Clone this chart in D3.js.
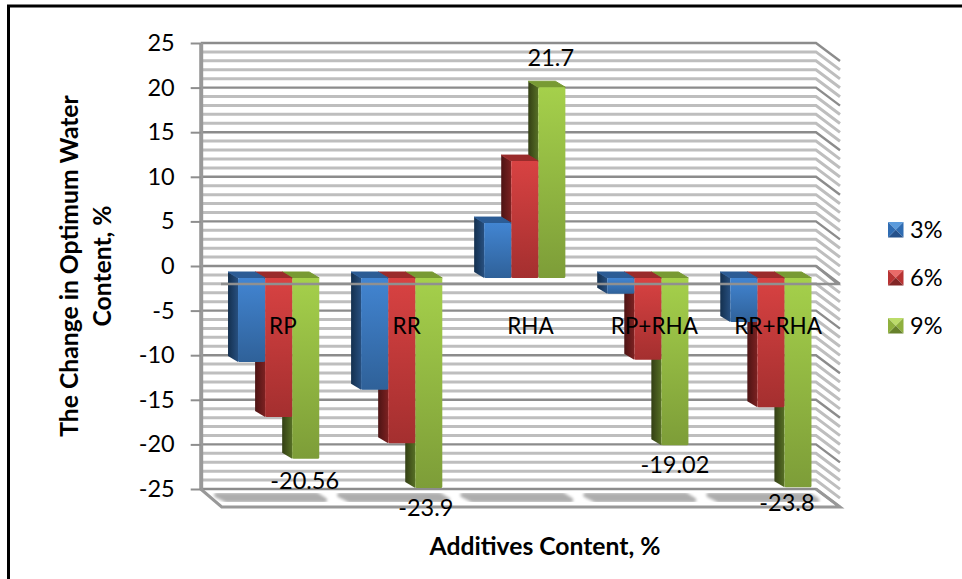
<!DOCTYPE html>
<html>
<head>
<meta charset="utf-8">
<script src="https://cdn.jsdelivr.net/npm/d3@7/dist/d3.min.js"></script>
<style>
html,body{margin:0;padding:0;background:#fff}
svg{display:block}
text{font-family:Lato,"Open Sans",sans-serif;fill:#000}
</style>
</head>
<body>
<svg id="c" width="962" height="579"></svg>
<script>
const categories = ["RP","RR","RHA","RP+RHA","RR+RHA"];
const seriesNames = ["3%","6%","9%"];
const values3 = [-9.55,-12.7,6.25,-1.8,-5];
const values6 = [-15.8,-18.8,13.3,-9.3,-14.7];
const values9 = [-20.56,-23.9,21.7,-19.02,-23.8];
const yTicks = [25,20,15,10,5,0,-5,-10,-15,-20,-25];
const minorTicks = d3.range(-24,25).filter(v=>v%5!==0);
const seriesValues = [values3,values6,values9];
const labelled = [
  {c:0,text:"-20.56",dx:-1,dy:30},
  {c:1,text:"-23.9",dx:-3,dy:28},
  {c:2,text:"21.7",dx:-1,dy:-21},
  {c:3,text:"-19.02",dx:0,dy:28},
  {c:4,text:"-23.8",dx:-11,dy:24}
];
const palette = [
  {hi:"#4285d2",lo:"#2f6199",sideA:"#14304f",sideB:"#274f7f",cap:"#2c5c95",tri:["#5b9bdc","#2f6cb2","#24508a","#2f6cb2"]},
  {hi:"#d84242",lo:"#a42f2f",sideA:"#4d1414",sideB:"#7c2121",cap:"#9a2b2b",tri:["#ea6a68","#b83333","#822626","#b83333"]},
  {hi:"#a5d04b",lo:"#7d9d38",sideA:"#333f14",sideB:"#566f25",cap:"#789a33",tri:["#bcdc6a","#8fb03e","#67812c","#8fb03e"]}
];

const svg = d3.select("#c");
const defs = svg.append("defs");
palette.forEach((p,i)=>{
  const f = defs.append("linearGradient").attr("id","front"+i).attr("x1",0).attr("y1",0).attr("x2",0).attr("y2",1);
  f.append("stop").attr("offset",0).attr("stop-color",p.hi);
  f.append("stop").attr("offset",1).attr("stop-color",p.lo);
  const s = defs.append("linearGradient").attr("id","side"+i).attr("x1",0).attr("y1",0).attr("x2",1).attr("y2",0);
  s.append("stop").attr("offset",0).attr("stop-color",p.sideA);
  s.append("stop").attr("offset",1).attr("stop-color",p.sideB);
});
defs.append("filter").attr("id","soft").attr("x","-10%").attr("y","-40%").attr("width","120%").attr("height","180%")
  .append("feGaussianBlur").attr("stdDeviation",1.8);

// frame of the picture
svg.append("path").attr("d","M8.5,579V6H962").attr("fill","none").attr("stroke","#000").attr("stroke-width",3);

// scales
const wallLeft=200.7, wallRight=816, depthX=24, depthY=18;
const yWall = d3.scaleLinear().domain([-25,25]).range([489,43]);
const xBack = d3.scaleBand().domain(categories).range([wallLeft,wallRight]).paddingInner(0.34).paddingOuter(0.17);
const xFront = d3.scaleBand().domain(categories).range([wallLeft+20.3,wallRight+24]);
const xSeries = d3.scaleBand().domain(d3.range(3)).range([0,xBack.bandwidth()]);
const yBar = d3.scaleLinear().domain([-25,25]).range([278+25*8.79,278-25*8.79]);
const barInset=6.4, barDX=10, barDY=6;

// walls: minor lines first, major lines over them
const wall = svg.append("g").attr("fill","none");
function wallLines(vals,stroke,width){
  const g = wall.append("g").attr("stroke",stroke).attr("stroke-width",width);
  g.selectAll("path").data(vals).join("path")
    .attr("d",v=>`M${wallLeft},${yWall(v)}H${wallRight}L${wallRight+depthX},${yWall(v)+depthY}`);
}
wallLines(minorTicks,"#bebebe",3);
wallLines(yTicks,"#8c8c8c",2.4);
// floor
const floor = wall.append("g").attr("stroke","#989898").attr("stroke-width",3);
floor.append("path").attr("d",`M${wallLeft},${yWall(-25)}L${wallLeft+depthX-3},${yWall(-25)+depthY}H${wallRight+depthX}L${wallRight},${yWall(-25)}`);
// left wall strip
wall.append("line").attr("x1",wallLeft+0.5).attr("x2",wallLeft+0.5).attr("y1",yWall(25)).attr("y2",yWall(-25))
  .attr("stroke","#999").attr("stroke-width",4);

// floor shadows
svg.append("g").attr("filter","url(#soft)").selectAll("path").data(categories).join("path")
  .attr("fill","#adadad").attr("stroke","#adadad").attr("stroke-width",5).attr("stroke-linejoin","round")
  .attr("d",c=>{
    const x=xBack(c)-5;
    return `M${x},${yWall(-25)+6}H${x+100}L${x+108},${yWall(-25)+11}H${x+10}Z`;
  });

// bars: back series first so that the first series sits in front
const bars = svg.append("g").attr("stroke-linejoin","round");
[2,1,0].forEach(si=>{
  categories.forEach((c,ci)=>{
    const v = seriesValues[si][ci];
    const L = xBack(c)+xSeries(si)+barInset;
    const w = xSeries.bandwidth();
    const fTop = yBar(Math.max(v,0)), fBot = yBar(Math.min(v,0));
    const FL=L+barDX, FR=FL+w;
    const side=`M${L},${fTop-barDY}L${FL},${fTop}V${fBot}L${L},${fBot-barDY}Z`;
    const cap=`M${L},${fTop-barDY}H${L+w}L${FR},${fTop}H${FL}Z`;
    const g = bars.append("g");
    g.append("path").attr("d",side).attr("fill",`url(#side${si})`);
    g.append("path").attr("d",cap).attr("fill",palette[si].cap).attr("stroke",palette[si].cap).attr("stroke-width",1);
    g.append("rect").attr("x",FL).attr("y",fTop).attr("width",w).attr("height",fBot-fTop)
      .attr("fill",`url(#front${si})`).attr("rx",1.5);
  });
});

// zero plane in front of the bars
svg.append("path").attr("fill","none").attr("stroke","#909090").attr("stroke-width",2.4)
  .attr("d",`M${wallLeft+20.3},${yWall(0)+depthY}H${wallRight+22}L${wallRight},${yWall(0)}`);

// value axis
const yAxis = svg.append("g").attr("transform",`translate(${wallLeft},0)`)
  .call(d3.axisLeft(yWall).tickValues(yTicks).tickSize(10).tickPadding(16).tickFormat(d=>String(d)));
yAxis.select(".domain").remove();
yAxis.selectAll("line").attr("stroke","#8e8e8e").attr("stroke-width",2);
yAxis.selectAll("text").attr("font-size",23.5).attr("font-family","Lato");

// category labels
const xAxis = svg.append("g").attr("transform","translate(0,318)")
  .call(d3.axisBottom(xFront).tickSize(0).tickPadding(0));
xAxis.select(".domain").remove();
xAxis.selectAll("text").attr("font-size",22.5).attr("font-family","Lato").attr("dy","0.71em");

// data labels on the last series
svg.append("g").selectAll("text").data(labelled).join("text")
  .attr("font-size",23.5).attr("text-anchor","middle")
  .attr("x",d=>xBack(categories[d.c])+xSeries(2)+barInset+barDX+xSeries.bandwidth()/2+d.dx)
  .attr("y",d=>yBar(values9[d.c])+d.dy)
  .text(d=>d.text);

// axis titles
svg.append("text").attr("x",545).attr("y",555).attr("text-anchor","middle")
  .attr("font-size",24.7).attr("font-weight",700).text("Additives Content, %");
const yT = svg.append("g").attr("text-anchor","middle").attr("font-size",24.7).attr("font-weight",700);
yT.append("text").attr("transform","translate(78,266) rotate(-90)").text("The Change in Optimum Water");
yT.append("text").attr("transform","translate(111,266) rotate(-90)").text("Content, %");

// legend
const legend = svg.append("g").selectAll("g").data(seriesNames).join("g")
  .attr("transform",(d,i)=>`translate(888,${222+i*48})`);
legend.each(function(d,i){
  const g=d3.select(this), s=15.5, m=s/2, t=palette[i].tri;
  [[0,0,s,0],[s,0,s,s],[s,s,0,s],[0,s,0,0]].forEach((e,k)=>{
    g.append("path").attr("d",`M${e[0]},${e[1]}L${e[2]},${e[3]}L${m},${m}Z`).attr("fill",t[k]);
  });
});
legend.append("text").attr("x",22).attr("y",16).attr("font-size",23.5).text(d=>d);
</script>
</body>
</html>
